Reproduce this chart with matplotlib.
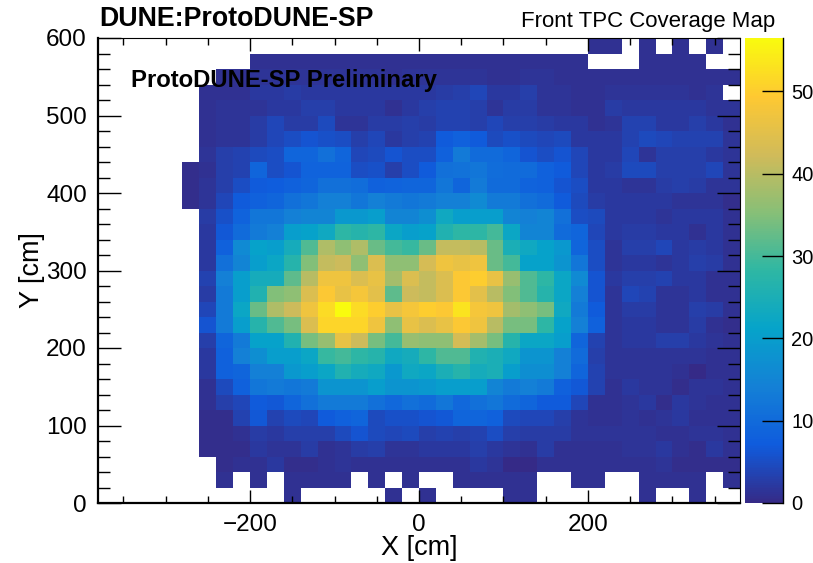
import numpy as np
import matplotlib
matplotlib.use('Agg')
import matplotlib.pyplot as plt
from matplotlib.colors import LinearSegmentedColormap
from matplotlib.ticker import MultipleLocator

plt.rcParams['font.family'] = ['Liberation Sans', 'DejaVu Sans']

n = np.nan
x_edges = list(range(-380, 381, 20))
y_edges = list(range(0, 601, 20))
z_max = 56.5
x_ticks = [-200, 0, 200]
y_ticks = [0, 100, 200, 300, 400, 500, 600]
z_ticks = [0, 10, 20, 30, 40, 50]

# counts per bin, one list per Y row, 38 X bins (blank = n)
y590 = [n]*29 + [1, 1, n, 1, n, 1, n, 1, n]
y570 = [n]*9 + [1]*20 + [n, n, n, 1, 1, 1, 1, n, n]
y550 = [n]*7 + [1, 1, 1.5, 1.5, 1.5, 1.5, 1.5, 1.5, 1.5, 1.5, 1, 1.5, 1.5, 1.5, 1.5, 1.5, 1, 1, 1.5, 1.5, 1, 1, 1, 1, 1, 1, 1, 1, 1, 1, 1]
y530 = [n]*6 + [1, 1, 1, 2, 2, 2.5, 2, 2, 2, 2, 2, 2, 2, 2, 2.5, 3, 4, 2, 2, 3, 1.5, 1.5, 1, 1, 1.5, 1.5, 1.5, 1.5, 1.5, 1, 1.5, n]
y510 = [n]*6 + [1, 1.5, 1.5, 1.5, 2, 2, 3, 3, 2, 2, 2, 1, 2, 3, 3.5, 3.5, 3, 1.5, 2.5, 2.5, 1.5, 1.5, 1, 1, 2.5, 2, 2, 2, 2, 2, 1.5, 1.5]
y490 = [n]*6 + [1, 1.5, 1.5, 2.5, 4, 2.5, 2.5, 4.5, 1.5, 1.5, 2.5, 2.5, 3, 2.5, 3.5, 3.5, 3, 4, 3, 3, 2.5, 2, 2, 1, 1.5, 3.5, 3.5, 2, 2, 3, 2, 1]
y470 = [n]*6 + [1, 1.5, 1.5, 2.5, 4, 5, 6, 5.5, 5, 3, 4, 2, 3, 3.5, 7, 8, 7, 4.5, 5.5, 4.5, 4, 4.5, 2, 2, 2, 3.5, 4.5, 4, 3.5, 3.5, 3.5, 1.5]
y450 = [n]*6 + [1.5, 3, 3.5, 4.5, 5, 9, 9, 11, 9, 4, 4.5, 6, 5, 5, 8, 13, 10, 10, 9, 6, 5, 6, 4, 2, 2, 4, 1.5, 3, 3, 3, 2, 1.5]
y430 = [n]*5 + [0.5, 1, 3, 3.5, 9, 5, 6, 8.5, 8.5, 8.5, 5, 5.5, 3, 5, 7, 11, 11.5, 12, 10.5, 10, 10, 8, 7, 4, 2, 2.5, 4.5, 4.5, 3, 3, 3, 4, 1.5]
y410 = [n]*5 + [0.5, 1.5, 3, 5, 7, 7.5, 8, 9, 11, 11, 10.5, 8, 8.5, 9, 9, 12, 9, 13, 10, 10, 8.5, 8, 6, 5, 2, 2, 1.5, 1.5, 2.5, 3, 2.5, 1.5, 1.5]
y390 = [n]*5 + [0.5, 1.5, 4, 7, 8, 9, 11, 12, 14, 14, 12, 14, 13, 12, 13, 14, 14, 16, 13, 13, 11, 10, 7, 4.5, 2.5, 2, 2, 2, 2, 1.5, 1.5, 1.5, 0.5]
y370 = [n]*6 + [2.5, 5.5, 8.5, 12, 12, 14, 15, 15, 19, 19, 20, 15, 15, 17, 23, 20, 20, 20, 15, 14, 15, 11, 5, 4.5, 2, 2, 2, 1.5, 2, 2, 2, 1]
y350 = [n]*6 + [2, 6.5, 10, 13, 14, 20, 21, 23, 28, 27, 28, 22, 20, 21, 26, 28, 28, 30, 22, 15, 15, 10, 9, 4, 2, 2.5, 2.5, 2, 2, 1, 2, 1]
y330 = [n]*6 + [2, 8, 16, 21, 20, 24, 31, 39, 36, 39, 33, 30, 29, 33, 41, 41, 40, 33, 25, 23, 21, 19, 9, 5, 1.5, 3, 3, 4, 2, 2.5, 2, 1]
y310 = [n]*6 + [2, 11, 15, 20, 22, 27, 35, 41, 42, 36, 44, 36, 36, 43, 47, 46, 47, 33, 30, 21, 21, 18, 12, 5, 1.5, 2, 2, 1.5, 2, 3, 2.5, 1]
y290 = [n]*6 + [3.5, 14, 20, 24, 24, 32, 40, 47, 47, 44, 46, 38, 44, 41, 44, 49, 50, 46, 37, 31, 28, 22, 16, 6, 2, 3, 3, 3.5, 2, 2, 1, 1]
y270 = [n]*6 + [2.5, 13, 20, 26, 35, 36, 44, 49, 46, 48, 45, 32, 42, 41, 44, 49, 45, 40, 35, 31, 27, 22, 14, 6, 1.5, 4, 3.5, 1.5, 1.5, 2, 1, 1]
y250 = [n]*6 + [4, 13, 22, 33, 39, 42, 47, 52, 56.5, 52, 50, 46, 48, 50, 49, 53, 48, 47, 38, 36, 34, 23, 13, 7, 1.5, 2.5, 2.5, 1.5, 1.5, 3, 2.5, 1]
y230 = [n]*6 + [6, 13, 20, 27, 31, 34, 44, 51, 51, 51, 47, 36, 46, 44, 46, 49, 47, 40, 34, 34, 28, 21, 14, 8, 1.5, 2, 2, 1.5, 1.5, 2.5, 1, 0.5]
y210 = [n]*6 + [3, 9, 13, 21, 21, 26, 34, 37, 46, 42, 34, 30, 37, 36, 36, 43, 38, 34, 27, 22, 22, 20, 9, 3.5, 1.5, 2, 2, 3, 3, 2, 1.5, 1]
y190 = [n]*6 + [2, 8, 14, 17, 20, 20, 22, 29, 30, 28, 27, 23, 24, 28, 31, 31, 26, 25, 23, 18, 18, 14, 10, 3, 1.5, 1.5, 1.5, 1.5, 1.5, 1.5, 1, 1]
y170 = [n]*6 + [2, 8, 9, 14, 14, 19, 20, 22, 26, 24, 23, 19, 23, 22, 25, 27, 24, 25, 20, 17, 17, 14, 9, 3.5, 1.5, 1.5, 1.5, 1.5, 1, 0, 1, 1]
y150 = [n]*6 + [1, 4.5, 8, 12, 13, 12, 13, 18, 18, 18, 20, 18, 18, 19, 20, 20, 20, 15, 13, 14, 13, 8, 6.5, 3.5, 1, 2, 1.5, 1.5, 0.5, 1.5, 1.5, 1]
y130 = [n]*6 + [1, 3, 4, 7, 6.5, 9, 11, 13, 13, 13, 11, 9.5, 11, 10, 12, 9.5, 11, 12, 10, 9, 7, 7, 4, 1, 1, 1.5, 2, 0.5, 2, 1.5, 1, 1]
y110 = [n]*6 + [0.5, 0.5, 3.5, 6.5, 3.5, 4.5, 4, 7, 8, 9, 4.5, 5.5, 5.5, 6, 6.5, 9, 9, 8, 4.5, 4, 4, 3, 1.5, 1, 1, 1.5, 1, 1.5, 2, 1, 1, 1]
y90 = [n]*6 + [0.5, 0.5, 1, 2.5, 2, 3, 3, 3, 4.5, 6, 4.5, 4, 4.5, 3, 3.5, 3, 3.5, 5, 3, 2.5, 2.5, 2.5, 1.5, 1.5, 1.5, 1.5, 1.5, 1, 1, 1.5, 1.5, 1]
y70 = [n]*6 + [0.5, 0.5, 0.5, 2, 1.5, 1.5, 2.5, 1, 1.5, 2.5, 3, 1.5, 1.5, 2, 2, 2, 3, 2, 1.5, 1, 2.5, 1, 1, 1, 1, 1.5, 1.5, 2, 1, 0.5, 2, 1]
y50 = [n]*7 + [0.5, 1, 1, 2, 0.5, 0.5, 1, 1.5, 1, 1, 1, 1, 1, 1, 1, 2, 1.5, 0, 0, 1, 1, 1, 1, 1, 1, 1, 1.5, 0.5, 0.5, 0.5, 0.5]
y30 = [n]*7 + [1, n, 1, n, 1, 1, 1, 1, n, 1, n, 1, n, n, 1, 1, 1, 1, 1, n, n, 1, 1, n, n, 1, 1, 1, 1, n, 1]
y10 = [n]*11 + [1] + [n]*5 + [1, n, 1] + [n]*4 + [1, 1] + [n]*6 + [1, n, n, 1, n, n]

rows = [y10, y30, y50, y70, y90, y110, y130, y150, y170, y190, y210, y230, y250, y270, y290,
        y310, y330, y350, y370, y390, y410, y430, y450, y470, y490, y510, y530, y550, y570, y590]
counts = np.array(rows, dtype=float)

# ROOT kBird palette
bird = [(0.2082, 0.1664, 0.5293), (0.0592, 0.3599, 0.8684), (0.0780, 0.5041, 0.8385),
        (0.0232, 0.6419, 0.7914), (0.1802, 0.7178, 0.6425), (0.5301, 0.7492, 0.4662),
        (0.8186, 0.7328, 0.3499), (0.9956, 0.7862, 0.1968), (0.9764, 0.9832, 0.0539)]
cmap = LinearSegmentedColormap.from_list('bird', bird, N=255)
cmap.set_bad('white')

fig = plt.figure(figsize=(8.13, 5.63), dpi=100)
ax = fig.add_axes([98/813, 60/563, 642/813, 465/563])
mesh = ax.pcolormesh(x_edges, y_edges, np.ma.masked_invalid(counts), cmap=cmap, vmin=0, vmax=z_max)

ax.set_xlim(-380, 380)
ax.set_ylim(0, 600)
ax.set_xticks(x_ticks)
ax.set_yticks(y_ticks)
ax.xaxis.set_minor_locator(MultipleLocator(50))
ax.yaxis.set_minor_locator(MultipleLocator(20))
ax.tick_params(axis='x', which='major', direction='in', top=True, length=9.5, width=1, labelsize=17.5, pad=8)
ax.tick_params(axis='x', which='minor', direction='in', top=True, length=5, width=1)
ax.tick_params(axis='y', which='major', direction='in', right=True, length=16.5, width=1, labelsize=17.5, pad=8)
ax.tick_params(axis='y', which='minor', direction='in', right=True, length=8.5, width=1)
for side in ['left', 'bottom']:
    ax.spines[side].set_linewidth(1.6)
ax.set_axisbelow(False)

fig.text(381/813, 1-548/563, 'X [cm]', fontsize=19.5, ha='left', va='center')
fig.text(32/813, 1-270/563, 'Y [cm]', fontsize=19.5, rotation=90, ha='center', va='center')
fig.text(99/813, 1-19/563, 'DUNE:ProtoDUNE-SP', fontsize=19.3, fontweight='bold', ha='left', va='center')
fig.text(775/813, 1-21/563, 'Front TPC Coverage Map', fontsize=16, ha='right', va='center')
fig.text(131/813, 1-81/563, 'ProtoDUNE-SP Preliminary', fontsize=17.2, fontweight='bold', ha='left', va='center')

cax = fig.add_axes([745/813, 60/563, 38/813, 465/563])
cbar = fig.colorbar(mesh, cax=cax)
cbar.set_ticks(z_ticks)
cbar.outline.set_visible(False)
cax.spines['right'].set_visible(True)
cax.spines['right'].set_linewidth(1)
cax.tick_params(axis='y', direction='in', length=15, width=1, labelsize=14.5, pad=6, right=True)

fig.savefig('out.png', dpi=100)
